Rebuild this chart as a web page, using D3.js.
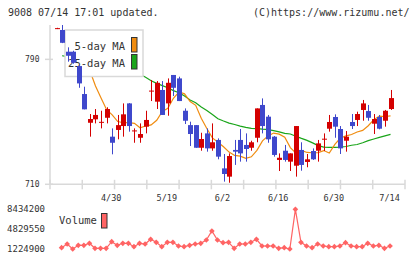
<!DOCTYPE html>
<html>
<head>
<meta charset="utf-8">
<script src="https://cdn.jsdelivr.net/npm/d3@7"></script>
<style>
  body { margin: 0; background: #fff; }
  svg { display: block; font-family: "DejaVu Sans Mono", monospace; }
</style>
</head>
<body>
<svg id="chart" width="420" height="259"></svg>
<script>
// daily candles, index 0 = leftmost day
var opens  = [809.6, 808.8, 794.9, 794.9, 785.7, 767.8, 749.4, 751.6, 749.5, 752.6,
              740.5, 744.8, 747.3, 761.8, 744.0, 739.8, 746.9, 769.6, 762.9, 770.4,
              761.8, 780.0, 777.8, 757.1, 747.9, 747.9, 733.4, 742.6, 733.0, 738.4,
              720.2, 714.9, 732.0, 738.4, 735.2, 733.4, 739.8, 760.8, 753.3, 740.5,
              725.6, 731.5, 724.5, 721.9, 732.0, 724.3, 731.3, 731.5, 738.8, 745.6,
              753.1, 745.4, 737.9, 749.9, 751.2, 757.6, 756.9, 748.8, 753.1, 750.7, 758.2];
var highs  = [810.2, 812.0, 797.7, 795.5, 786.4, 772.5, 755.0, 758.2, 757.1, 759.3,
              745.8, 754.4, 761.8, 762.0, 745.8, 749.0, 757.1, 776.8, 776.1, 776.1,
              777.8, 780.0, 778.9, 758.6, 750.1, 747.9, 743.0, 745.8, 749.0, 739.4,
              729.4, 729.8, 738.4, 745.4, 742.6, 737.9, 758.6, 765.0, 754.4, 740.9,
              729.8, 735.2, 729.8, 747.3, 736.9, 729.4, 733.0, 738.4, 742.6, 754.4,
              754.8, 747.3, 744.1, 755.0, 756.5, 764.0, 760.8, 755.0, 754.4, 757.6, 770.4];
var lows   = [809.4, 800.4, 788.5, 787.2, 771.8, 758.0, 740.5, 749.0, 745.8, 749.0,
              729.2, 738.8, 740.5, 743.7, 736.6, 736.6, 742.6, 763.3, 758.2, 754.4,
              753.9, 766.5, 763.3, 748.6, 734.5, 733.4, 731.5, 730.9, 731.5, 726.0,
              711.7, 711.0, 722.4, 724.5, 724.5, 731.5, 736.9, 742.6, 736.6, 727.7,
              718.5, 724.5, 718.5, 714.9, 718.7, 720.9, 725.6, 724.5, 731.3, 743.7,
              739.8, 729.4, 730.9, 745.4, 747.3, 750.7, 750.7, 742.2, 745.2, 746.9, 757.6];
var closes = [810.0, 800.6, 792.3, 787.8, 774.6, 758.0, 751.8, 754.4, 750.0, 758.2,
              736.6, 747.9, 754.8, 747.3, 744.5, 742.2, 751.2, 770.0, 775.0, 754.4,
              775.0, 771.8, 763.3, 750.7, 742.2, 733.4, 739.0, 733.0, 736.9, 727.7,
              716.6, 728.1, 730.9, 729.8, 732.6, 736.9, 758.6, 747.3, 738.8, 728.8,
              727.0, 725.6, 729.8, 747.3, 722.4, 726.0, 726.0, 736.2, 739.2, 749.9,
              746.9, 733.0, 740.5, 747.3, 755.0, 761.8, 752.6, 751.8, 745.6, 757.1, 765.2];

// moving averages as drawn (no value on the first day)
var ma5  = [null, 804.5, 800.0, 797.0, 795.0, 793.1, 782.7, 772.9, 765.3, 757.8,
            754.5, 750.2, 749.4, 749.5, 749.0, 746.2, 747.3, 748.0, 751.0, 756.6,
            758.6, 765.1, 769.2, 767.9, 763.0, 760.6, 752.3, 745.7, 739.7, 736.9,
            734.0, 730.6, 728.5, 728.0, 726.6, 727.6, 731.7, 737.8, 741.0, 742.8,
            742.1, 740.1, 733.5, 730.0, 731.7, 730.4, 730.2, 730.3, 731.6, 730.0,
            735.5, 739.6, 741.0, 741.9, 743.5, 744.5, 747.5, 751.4, 753.7, 753.4, 753.8];
var ma25 = [null, 792.3, 791.8, 791.3, 790.8, 790.2, 789.6, 788.9, 788.1, 787.2,
            786.2, 785.1, 784.0, 782.8, 781.6, 780.5, 778.5, 776.3, 774.6, 773.2,
            771.8, 770.0, 768.6, 766.5, 764.0, 762.2, 759.5, 757.3, 754.7, 752.0,
            750.5, 749.2, 748.3, 747.3, 746.4, 745.8, 745.7, 745.3, 745.0, 744.4,
            743.6, 742.6, 742.2, 740.8, 739.4, 738.1, 736.5, 734.8, 733.8, 733.7,
            733.7, 733.8, 734.2, 735.0, 735.5, 736.6, 738.0, 739.0, 740.0, 741.0, 742.0];

var volumes = [null, 1461000, 2133000, 1224900, 1897000, 1897000, 2260000, 1352000, 1352000, 1352000,
               2550000, 1897000, 2260000, 2260000, 1643000, 2260000, 2133000, 2986000, 2442000, 1643000,
               2442000, 2442000, 1770000, 1643000, 1897000, 2133000, 2260000, 2859000, 4494000, 2859000,
               2369000, 2442000, 1352000, 2133000, 2133000, 2442000, 2986000, 1770000, 1770000, 1770000,
               1352000, 1461000, 1224900, 8434200, 2442000, 1770000, 1461000, 2133000, 1770000, 1643000,
               1643000, 1770000, 2369000, 1770000, 1643000, 1643000, 2260000, 1770000, 1897000, 1352000, 1770000];

var dateIdx = [10, 20, 30, 40, 50, 60];
var dateText = ["4/30", "5/19", "6/2", "6/16", "6/30", "7/14"];
var priceTicks = [790, 710];
var volTicks = [8434200, 4829550, 1224900];

var svg = d3.select("#chart");
var axisColor = "#d9d9d9", textColor = "#333";
var upColor = "#d40000", downColor = "#3f48cc";

var x = d3.scaleLinear().domain([-1.17, 62.6]).range([50, 405]);
var y = d3.scaleLinear().domain([710, 812]).range([184.3, 25]);
var yv = d3.scaleLinear().domain([1224900, 8434200]).range([249, 209.3]);
var grid = d3.scaleLinear().domain([0, 11]).range([50, 405]);

// header texts
svg.append("text").attr("x", 8).attr("y", 13).attr("dominant-baseline", "middle")
  .style("font-size", "10px").attr("fill", textColor).text("9008 07/14 17:01 updated.");
svg.append("text").attr("x", 409.5).attr("y", 13).attr("dominant-baseline", "middle")
  .attr("text-anchor", "end").style("font-size", "10px").attr("fill", textColor)
  .text("(C)https://www.rizumu.net/");

// axes
svg.append("line").attr("x1", 50).attr("x2", 50).attr("y1", y.range()[1]).attr("y2", y(710))
  .attr("stroke", axisColor).attr("stroke-width", 1.5);
svg.append("line").attr("x1", 50).attr("x2", 405).attr("y1", y(710)).attr("y2", y(710))
  .attr("stroke", axisColor).attr("stroke-width", 1.5);
svg.selectAll("line.xt").data(d3.range(12)).enter().append("line").attr("class", "xt")
  .attr("x1", d => grid(d)).attr("x2", d => grid(d))
  .attr("y1", y(710) - 4.5).attr("y2", y(710) + 5)
  .attr("stroke", axisColor).attr("stroke-width", 1.5);
svg.selectAll("line.yt").data(priceTicks).enter().append("line").attr("class", "yt")
  .attr("x1", 45).attr("x2", 53).attr("y1", d => y(d)).attr("y2", d => y(d))
  .attr("stroke", axisColor).attr("stroke-width", 1.5);
svg.selectAll("text.yl").data(priceTicks).enter().append("text").attr("class", "yl")
  .attr("x", 39.5).attr("y", d => y(d)).attr("text-anchor", "end")
  .attr("dominant-baseline", "middle").style("font-size", "8px").attr("fill", textColor)
  .text(d => d);
svg.selectAll("text.xl").data(dateIdx).enter().append("text").attr("class", "xl")
  .attr("x", d => x(d) - 1).attr("y", 198).attr("text-anchor", "middle")
  .attr("dominant-baseline", "middle").style("font-size", "8.5px").attr("fill", textColor)
  .text((d, i) => dateText[i]);

// moving averages (under the legend)
function maLine(arr, color) {
  var line = d3.line().defined(d => d != null).x((d, i) => x(i)).y(d => y(d));
  svg.append("path").datum(arr).attr("d", line).attr("fill", "none")
    .attr("stroke", color).attr("stroke-width", 1.2);
}
maLine(ma25, "#1aa51a");
maLine(ma5, "#f08c10");

// legend
var lg = svg.append("g");
lg.append("rect").attr("x", 65).attr("y", 30).attr("width", 78).attr("height", 46.5)
  .attr("fill", "#fff").attr("stroke", "#d9d9d9").attr("stroke-width", 1.5);
var legendNames = ["5-day MA", "25-day MA"];
var legendColors = ["#f08c10", "#1aa51a"];
lg.selectAll("text").data(legendNames).enter().append("text")
  .attr("x", 125).attr("y", (d, i) => 46.5 + i * 17).attr("text-anchor", "end")
  .attr("dominant-baseline", "middle").style("font-size", "10.5px").attr("fill", textColor)
  .text(d => d);
lg.selectAll("rect.sw").data(legendColors).enter().append("rect").attr("class", "sw")
  .attr("x", 131.5).attr("y", (d, i) => 37.5 + i * 17).attr("width", 5.5).attr("height", 14.5)
  .attr("fill", d => d).attr("stroke", "#333").attr("stroke-width", 1);

// candles
var candles = svg.append("g").selectAll("g").data(d3.range(opens.length)).enter().append("g");
candles.append("line")
  .attr("x1", i => Math.round(x(i)) + 0.5).attr("x2", i => Math.round(x(i)) + 0.5)
  .attr("y1", i => y(highs[i])).attr("y2", i => y(lows[i]))
  .attr("stroke", i => closes[i] >= opens[i] ? upColor : downColor).attr("stroke-width", 1);
candles.append("rect")
  .attr("x", i => Math.round(x(i)) - 2).attr("width", 5)
  .attr("y", i => y(Math.max(opens[i], closes[i])))
  .attr("height", i => Math.max(1, y(Math.min(opens[i], closes[i])) - y(Math.max(opens[i], closes[i]))))
  .attr("fill", i => closes[i] >= opens[i] ? upColor : downColor);

// volume panel
svg.selectAll("text.vl").data(volTicks).enter().append("text").attr("class", "vl")
  .attr("x", 45).attr("y", d => yv(d)).attr("text-anchor", "end")
  .attr("dominant-baseline", "middle").style("font-size", "9px").attr("fill", textColor)
  .text(d => d);
svg.append("text").attr("x", 59).attr("y", 221).attr("dominant-baseline", "middle")
  .style("font-size", "10.5px").attr("fill", textColor).text("Volume");
svg.append("rect").attr("x", 101.5).attr("y", 213.5).attr("width", 5.5).attr("height", 14.5)
  .attr("fill", "#ff6464").attr("stroke", "#333").attr("stroke-width", 1);

var volColor = "#ff6464";
var vline = d3.line().defined(d => d != null).x((d, i) => x(i) - 0.5).y(d => yv(d));
svg.append("path").datum(volumes).attr("d", vline).attr("fill", "none")
  .attr("stroke", volColor).attr("stroke-width", 1.2);
svg.selectAll("path.vm").data(d3.range(volumes.length).filter(i => volumes[i] != null))
  .enter().append("path").attr("class", "vm")
  .attr("d", d3.symbol().type(d3.symbolSquare).size(16))
  .attr("transform", i => "translate(" + (x(i) - 0.5) + "," + yv(volumes[i]) + ") rotate(45)")
  .attr("fill", volColor);
</script>
</body>
</html>
